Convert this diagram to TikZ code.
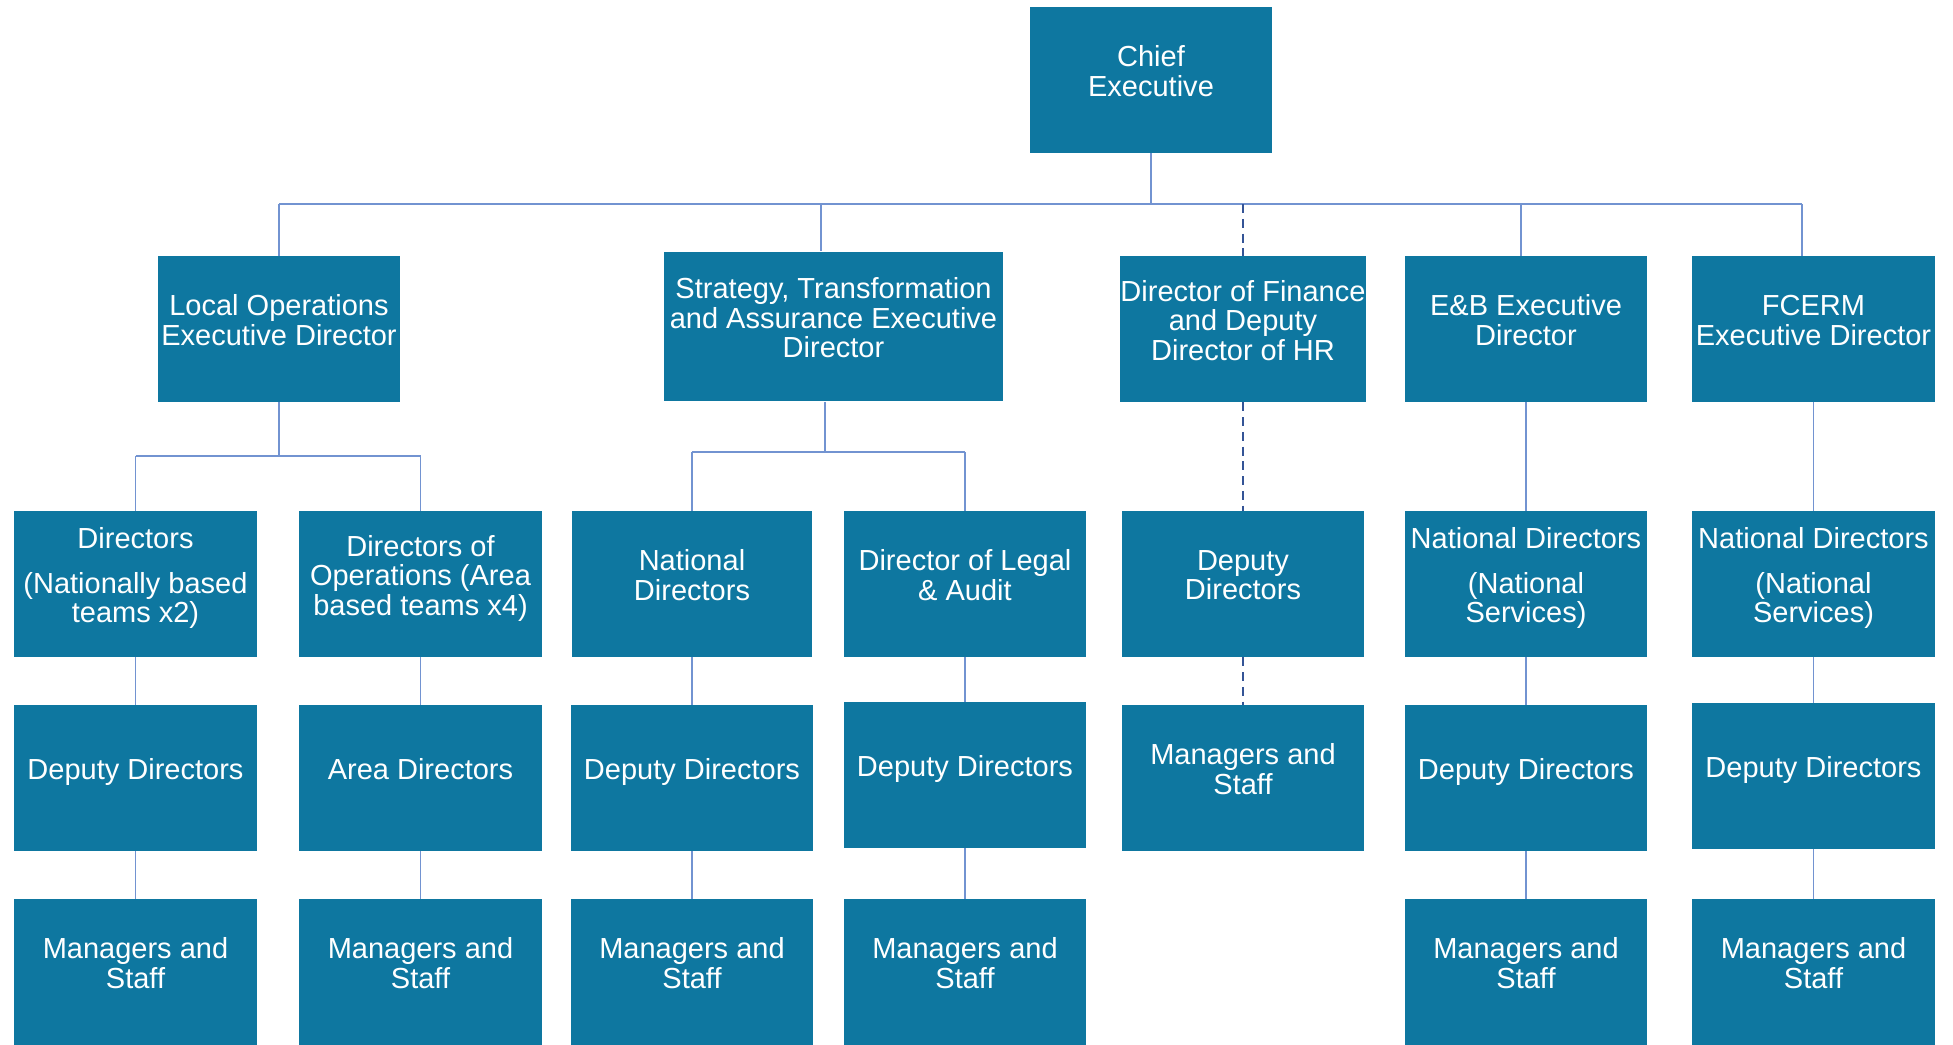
\documentclass[tikz,border=0pt]{standalone}
\usepackage{fontspec}
\setmainfont{Liberation Sans}
\usepackage{tikz}
\usetikzlibrary{positioning}
\definecolor{boxblue}{RGB}{14,119,160}
\definecolor{linkblue}{RGB}{114,147,209}
\definecolor{dashblue}{RGB}{52,84,150}

\begin{document}
\begin{tikzpicture}[x=0.01cm,y=-0.01cm,
    post/.style={fill=boxblue,text=white,minimum width=2.42cm,minimum height=1.45cm,
      inner xsep=0pt,inner ysep=1pt,align=center,font=\fontsize{8.25}{8.4}\selectfont,text depth=5pt},
    link/.style={draw=linkblue,line width=0.5pt},
    dotlink/.style={draw=dashblue,line width=0.8pt,dash pattern=on 2.6pt off 1.6pt}]
  \useasboundingbox (0,0) rectangle (1953,1044);

  \coordinate (bus) at (0,204);
  \coordinate (locbus) at (0,456);
  \coordinate (stbus) at (0,452);
  \coordinate (stdrop) at (821,0);
  \coordinate (stup) at (825,0);
  \coordinate (ebdrop) at (1521,0);
  \coordinate (fcdrop) at (1802,0);

  \node[post] (ceo) at (1151,80) {Chief\\Executive};

  \node[post] (locops) at (279,329) {Local Operations\\Executive Director};
  \node[post,minimum width=3.39cm,minimum height=1.49cm] (strat) at (833.5,326.5)
    {Strategy, Transformation\\and Assurance Executive\\Director};
  \node[post] (fin) at (1243,329) {Director of Finance\\and Deputy\\Director of HR};
  \node[post] (eb) at (1526,329) {E\&B Executive\\Director};
  \node[post] (fcerm) at (1813.5,329) {FCERM\\Executive Director};

  \node[post] (natdir) at (135.5,584) {Directors\\[4.3pt](Nationally based\\teams x2)};
  \node[post] (opsdir) at (420.5,584) {Directors of\\Operations (Area\\based teams x4)};
  \node[post,minimum width=2.40cm] (stnat) at (692,584) {National\\Directors};
  \node[post] (legal) at (965,584) {Director of Legal\\\& Audit};
  \node[post] (findep) at (1243,584) {Deputy\\Directors};
  \node[post] (ebnat) at (1526,584) {National Directors\\[4.3pt](National\\Services)};
  \node[post] (fcnat) at (1813.5,584) {National Directors\\[4.3pt](National\\Services)};

  \node[post] (natdep) at (135.5,778) {Deputy Directors};
  \node[post] (area) at (420.5,778) {Area Directors};
  \node[post] (stdep) at (692,778) {Deputy Directors};
  \node[post] (legaldep) at (965,775) {Deputy Directors};
  \node[post] (finstaff) at (1243,778) {Managers and\\Staff};
  \node[post] (ebdep) at (1526,778) {Deputy Directors};
  \node[post] (fcdep) at (1813.5,776) {Deputy Directors};

  \node[post] (natstaff) at (135.5,972) {Managers and\\Staff};
  \node[post] (areastaff) at (420.5,972) {Managers and\\Staff};
  \node[post] (ststaff) at (692,972) {Managers and\\Staff};
  \node[post] (legalstaff) at (965,972) {Managers and\\Staff};
  \node[post] (ebstaff) at (1526,972) {Managers and\\Staff};
  \node[post] (fcstaff) at (1813.5,972) {Managers and\\Staff};

  \draw[link] (ceo.south) -- (ceo |- bus);
  \draw[link] (locops |- bus) -- (fcdrop |- bus);
  \draw[link] (locops |- bus) -- (locops.north);
  \draw[link] (stdrop |- bus) -- (stdrop |- strat.north);
  \draw[link] (ebdrop |- bus) -- (ebdrop |- eb.north);
  \draw[link] (fcdrop |- bus) -- (fcdrop |- fcerm.north);
  \draw[dotlink] (fin |- bus) -- (fin.north);
  \draw[dotlink] (fin.south) -- (findep.north);
  \draw[dotlink] (findep.south) -- (finstaff.north);

  \draw[link] (locops.south) -- (locops |- locbus);
  \draw[link] (natdir |- locbus) -- (opsdir |- locbus);
  \draw[link] (natdir |- locbus) -- (natdir.north);
  \draw[link] (opsdir |- locbus) -- (opsdir.north);

  \draw[link] (stup |- strat.south) -- (stup |- stbus);
  \draw[link] (stnat |- stbus) -- (legal |- stbus);
  \draw[link] (stnat |- stbus) -- (stnat.north);
  \draw[link] (legal |- stbus) -- (legal.north);

  \foreach \a/\b in {eb/ebnat,fcerm/fcnat,natdir/natdep,natdep/natstaff,opsdir/area,
      area/areastaff,stnat/stdep,stdep/ststaff,legal/legaldep,legaldep/legalstaff,
      ebnat/ebdep,ebdep/ebstaff,fcnat/fcdep,fcdep/fcstaff}
    \draw[link] (\a.south) -- (\b.north);
\end{tikzpicture}
\end{document}
